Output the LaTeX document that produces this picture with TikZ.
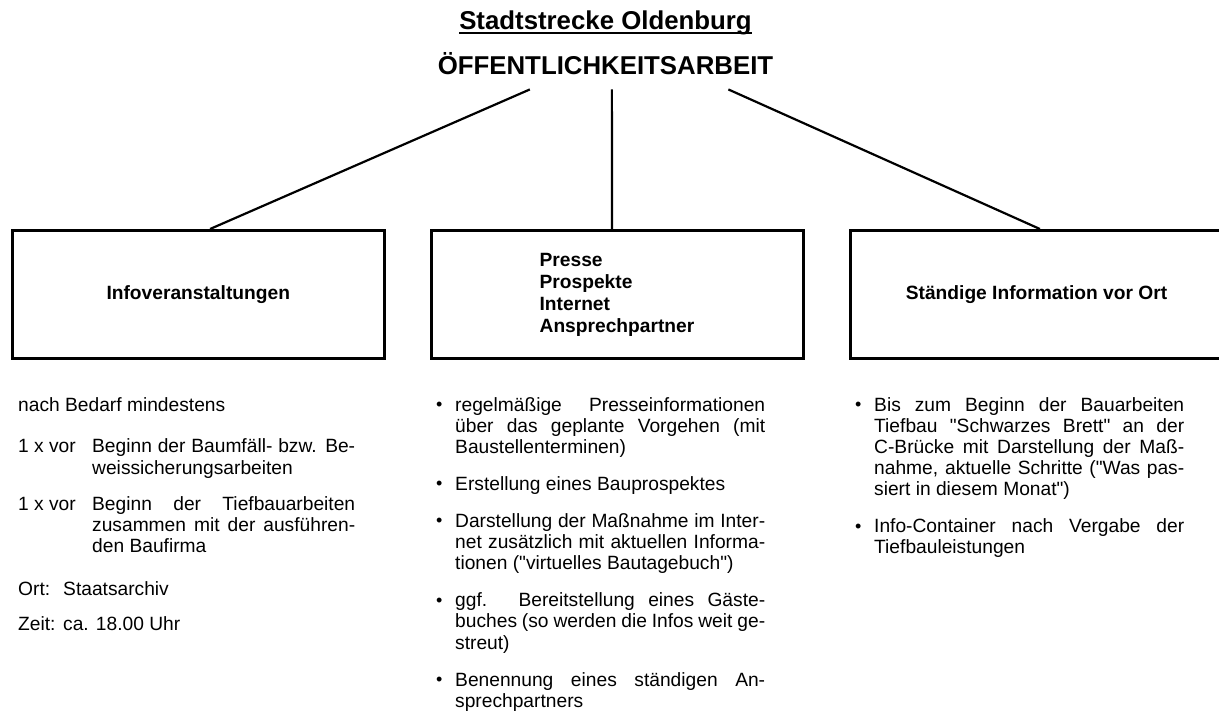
\documentclass[tikz,border=0pt]{standalone}
\usepackage{fontspec}
\setmainfont{Liberation Sans}[Ligatures=TeXOff]
\usetikzlibrary{calc}
\newcommand\smallbullet{\raisebox{0.6pt}{\fontsize{18}{18}\selectfont\textbullet}}
\newcommand\bulletpar{\noindent\hangindent=20pt\hangafter=1\makebox[20pt][l]{\hspace{1pt}\smallbullet}}
\newcommand\hangpar[2]{\noindent\hangindent=#1\hangafter=1\makebox[#1][l]{#2}}
\tikzset{
  boxst/.style={draw, line width=3pt, inner sep=0pt, minimum height=128pt, font=\bfseries\fontsize{19.2}{22}\selectfont},
  conn/.style={line width=2.2pt},
  bodyst/.style={inner sep=0pt, anchor=base west, font=\fontsize{19.2}{21.2}\selectfont},
  colst/.style={bodyst, align=justify, text width=#1},
  titlest/.style={inner sep=0pt, anchor=base, font=\bfseries\fontsize{25.8}{30}\selectfont}
}
\begin{document}
\begin{tikzpicture}[x=1pt,y=-1pt]
\useasboundingbox (0,0) rectangle (1219,711);
% titles
\node[titlest] (title) at (605.5,30) {Stadtstrecke Oldenburg};
\draw[line width=2pt] ([yshift=-3.5pt]title.base west) -- ([yshift=-3.5pt]title.base east);
\node[titlest] (main) at (605.5,75) {ÖFFENTLICHKEITSARBEIT};
% boxes
\node[boxst, minimum width=371.5pt] (b1) at (198.25,294.5) {Infoveranstaltungen};
\node[boxst, minimum width=372pt, align=left] (b2) at (617,294.5) {Presse\\Prospekte\\Internet\\Ansprechpartner};
\node[boxst, minimum width=373pt] (b3) at (1036.5,294.5) {Ständige Information vor Ort};
% connectors
\coordinate (m1) at ($(main.south west)!0.2746!(main.south east)+(0,14)$);
\coordinate (m2) at ($(main.south west)!0.519!(main.south east)+(0,14)$);
\coordinate (m3) at ($(main.south west)!0.866!(main.south east)+(0,14)$);
\draw[conn] (m1) -- ($(b1.north west)!0.5316!(b1.north east)$);
\draw[conn] (m2) -- ($(b2.north west)!0.4866!(b2.north east)$);
\draw[conn] (m3) -- ($(b3.north west)!0.509!(b3.north east)$);
% left column
\node[bodyst] (l0) at (18,412) {nach Bedarf mindestens};
\node[colst=337pt] (l1) at (18,453) {\hangpar{74pt}{1 x vor}Beginn der Baumfäll- bzw. Be-\linebreak weissicherungsarbeiten\par};
\node[colst=337pt] (l2) at (18,510) {\hangpar{74pt}{1 x vor}Beginn der Tiefbauarbeiten\linebreak zusammen mit der ausführen-\linebreak den Baufirma\par};
\node[bodyst] (l3) at (18,595) {\makebox[45pt][l]{Ort:}Staatsarchiv};
\node[bodyst] (l4) at (18,630) {\makebox[45pt][l]{Zeit:}ca. 18.00 Uhr};
% middle column
\node[colst=330pt] (mc) at (435,411) {\setlength\parskip{15.8pt}%
\bulletpar regelmäßige Presseinformationen\linebreak über das geplante Vorgehen (mit\linebreak Baustellenterminen)\par
\bulletpar Erstellung eines Bauprospektes\par
\bulletpar Darstellung der Maßnahme im Inter-\linebreak net zusätzlich mit aktuellen Informa-\linebreak tionen ("virtuelles Bautagebuch")\par
\bulletpar ggf. Bereitstellung eines Gäste-\linebreak buches (so werden die Infos weit ge-\linebreak streut)\par
\bulletpar Benennung eines ständigen An-\linebreak sprechpartners\par};
% right column
\node[colst=330pt] (rc) at (854,411) {\setlength\parskip{15.8pt}%
\bulletpar Bis zum Beginn der Bauarbeiten\linebreak Tiefbau "Schwarzes Brett" an der\linebreak C-Brücke mit Darstellung der Maß-\linebreak nahme, aktuelle Schritte ("Was pas-\linebreak siert in diesem Monat")\par
\bulletpar Info-Container nach Vergabe der\linebreak Tiefbauleistungen\par};
\end{tikzpicture}
\end{document}
